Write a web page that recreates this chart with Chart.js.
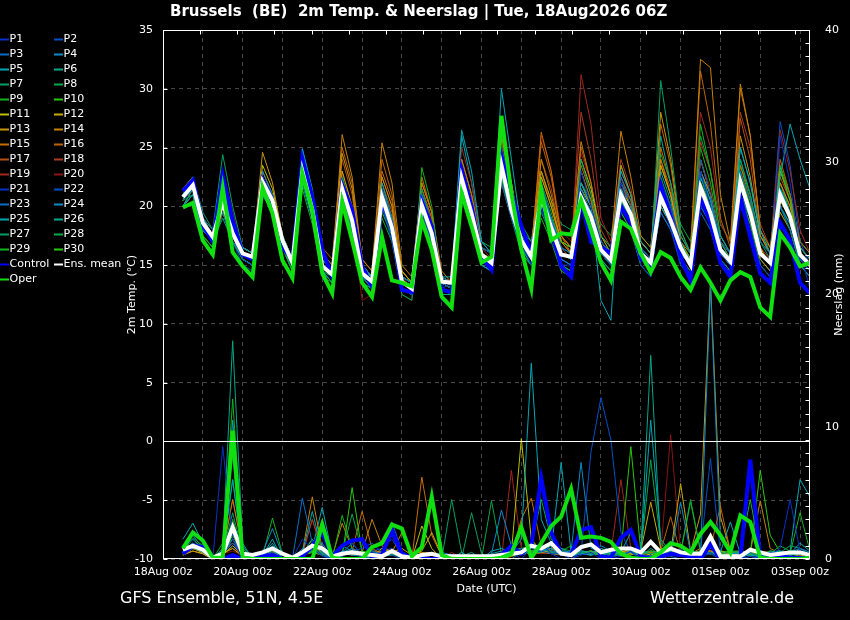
<!DOCTYPE html>
<html>
<head>
<meta charset="utf-8">
<script src="https://cdn.jsdelivr.net/npm/chart.js@4.4.1/dist/chart.umd.min.js"></script>
<style>
  html, body { margin: 0; padding: 0; background: #000; }
  canvas { display: block; }
</style>
</head>
<body>
<canvas id="ens" width="850" height="620"></canvas>
<script>
// forecast steps, hours after 18Aug 00z (6-hourly, 18Aug 12z .. 03Sep 06z)
const hours = [12,18,24,30,36,42,48,54,60,66,72,78,84,90,96,102,108,114,120,126,132,138,144,150,156,162,168,174,180,186,192,198,
  204,210,216,222,228,234,240,246,252,258,264,270,276,282,288,294,300,306,312,318,324,330,336,342,348,354,360,366,372,378,384,390];
const dayTicks = [0,24,48,72,96,120,144,168,192,216,240,264,288,312,336,360,384];
const dateLabels = ['18Aug 00z','20Aug 00z','22Aug 00z','24Aug 00z','26Aug 00z','28Aug 00z','30Aug 00z','01Sep 00z','03Sep 00z'];

const palette = ['#0832c8','#0050c8','#0a6ec4','#0a8cc8','#00a8b4','#00a88c','#00a064','#00aa46','#14b41e','#28c80a',
  '#bebe00','#c8aa00','#c8960a','#c88200','#c86e00','#be6400','#b45014','#aa3c1e','#a0281e','#8c1414'];

// 2m temperature (°C), members P1..P30
const tempP = [
  [21,22, 18,17,21,18, 16,15.5,22,20, 17,15,24,20, 15,14,22,19, 14.5,13.5,21,18, 13.5,13,20,18, 13.5,13,22,19, 15.5,15,24,20, 17,15,20,17, 15,15,23,20, 17,16,22,19, 15,14,21,18, 15,14,23,20, 16,15,21,18, 14.5,13.5,26,22, 16,13],
  [20.5,21.5, 18.5,17.5,20,17.5, 15.5,15,22.5,21, 17.5,15.5,23,20, 15,14.5,21,18.5, 14,13.5,20,17, 13,12.5,19.5,17, 13,13.5,22,19.5, 16.5,16,22,19, 16.5,15.5,21,18, 16,15.5,21,19, 16,15,20,19, 16.5,15.5,22,20, 17,15,24,21, 17,16,20,18, 15,14,21,19, 15.5,14.5],
  [21,22.5, 19,18,19.5,17, 16,15.5,21,19.5, 17,15,22,19, 15,14,20.5,18, 14,13,21.5,19, 14,13.5,21,18.5, 14,13.5,23,20, 16,15,25,21, 17.5,16,22,19, 16.5,16,20,18.5, 16,15.5,22.5,20, 16,15,19.5,18, 16,15,21,19, 16.5,15.5,23,20.5, 17,16,20,18, 15,14],
  [20,21, 18,17,20.5,18, 16.5,16,23,21, 17,15,24.9,21, 15.5,14.5,22,19.5, 15,14,20,18, 13,12.5,21,18, 13,12.5,21.5,19, 15,14.5,23.5,20, 17,16.5,20.5,18, 15.5,15,21.5,19.5, 17,16,20.5,18.5, 15.5,14.5,21,19, 16.5,15.5,20,18.5, 16,15,22,19, 16,15,21.5,19.5, 16.5,15.5],
  [21.5,22, 19,17.5,21,18.5, 16,15.5,21.5,20, 17.5,15.5,22.5,19.5, 15,14,21,18.5, 14.5,14,22,19, 14,13.5,20,17.5, 14,14,26.5,23, 17,16,30,24, 18,16,21.5,19, 16,15.5,22,20, 17,16,23,21, 17,16,20,18.5, 16,15,23,20.5, 17.5,16,25,22, 18,16,22.5,27, 24,21.5],
  [20,21.5, 18,17,19,17, 15.5,15,21,19.5, 16.5,15,22,19, 14.5,13.5,20.5,18, 13.5,13,20.5,18, 13,12.5,19,17, 12.5,12.5,22,19, 15,14.5,24,20, 16.5,15,21,18.5, 16,15.5,20,18, 15.5,14.5,21.5,19.5, 16.5,15.5,26,22, 17.5,16,22.5,20, 17,15.5,21,19, 16,15,20,18.5, 16,15],
  [21,22.5, 19.5,18,24.4,20, 16.5,16,22.5,20.5, 17,15.5,23.5,20.5, 15.5,14.5,22.5,19.5, 15,14,20.5,18.5, 14,13.5,21.5,18.5, 14,13.5,23.5,20, 16.5,16,23,20, 17,15.5,19.5,17.5, 15,14.5,24,21, 17.5,16.5,21,19, 16,15,30.7,25, 18,16,21,19, 15.5,14.5,24,21, 17,15.5,21,19.5, 16,15],
  [20.5,21, 18,17,20,17.5, 16,15.5,21.5,20, 16.5,14.5,22,19, 14.5,14,21.5,18.5, 14,13.5,20,18, 13.5,13,19,17, 13,12.5,21,18.5, 15,14.5,22.5,19, 16,15,20,17.5, 15,14.5,20,18.5, 15,14,19.5,18, 15,14,20.5,18.5, 15,14,22,19.5, 16,15,21,18.5, 15,14,20,18, 15,14],
  [20,21.5, 17.5,16.5,21,17.5, 15.5,15,22,20.5, 16.5,14.5,21.5,18.5, 14,13.5,21,18, 13.5,13,19,17, 12.5,12,23.3,20, 13.5,13,22,19.5, 15.5,15,22.5,19.5, 16,15,19,17, 14.5,14,21,19, 16,15,20.5,19, 16,15,22,19.5, 15.5,14.5,27,23, 17.5,16,23,20, 16,15,21,19, 15,14],
  [21,22, 18.5,17.5,20.5,18, 16.5,16,22,20, 17.5,15.5,23,19.5, 15.5,14.5,20.5,18, 14,13.5,21,18.5, 13.5,13,20.5,18, 13.5,13,22.5,20, 16,15.5,23,19.5, 17.5,16.5,21.5,19, 17,16.5,20.5,19, 17,16,21,19, 16,15,21,19, 17,15.5,21,19, 16.5,15.5,22,19.5, 16,15,23.3,20.5, 16.5,15.5],
  [20.5,22, 19,18,19.5,17.5, 16.5,16,23.5,21.5, 17.5,15.5,22.5,20, 15.5,14.5,22,19.5, 15,14,21,19, 14.5,13.5,20.5,18, 14,13.5,22,19, 16,15.5,23,20, 17.5,16,20,18, 16,15.5,24,21.5, 17.5,16,21.5,20, 17,16,20,18.5, 16.5,15.5,24,21, 17,15.5,22.5,20, 16.5,15,20.5,19, 16,15],
  [21,22, 18.5,17.5,20,17.5, 16,15.5,22,20.5, 17,15,23,20, 15,14,23,20, 15,14,20.5,18.5, 13.5,13,20,17.5, 13.5,13,21.5,19, 16,15.5,22,19, 17,16,22.5,20, 17,16.5,21.5,20, 17,16,20,18.5, 16,15,23.5,21, 17,15.5,22,20, 16.5,15.5,20.5,18.5, 15.5,14.5,19.5,18, 15,14],
  [21.5,22.5, 19,17.5,21,18.5, 16.5,16,24.6,22, 17.5,15.5,24,21, 16,15,24.5,21.5, 15,14,22.5,20, 14,13.5,21,18.5, 13.5,13,23,20.5, 16.5,16,26,22, 17.5,16,23,20.5, 17,16,22,20, 17,16,23.5,21, 17,16,28,24, 18,16,23,21, 17,16,26,22.5, 17.5,16,22,20, 16.5,15.5],
  [20,21, 18,17,20.5,18, 16,15.5,22.5,21, 17.5,15.5,23.5,20.5, 15.5,14.5,26.1,22.5, 15.5,14.5,25.4,22, 15,14,22,19.5, 14.5,13.5,24,21, 16.5,16,25,21.5, 17.5,16.5,24,21, 17.5,16.5,25.5,22, 17.5,16.5,26.4,22.5, 17.5,16.5,24,21, 17,16,32.5,31.8, 21,17,30.4,26, 18,16.5,23,20.5, 16.5,15.5],
  [21,21.5, 18.5,17.5,22,19, 16,15.5,21,19.5, 16.5,15,23,20, 15,14,22.5,19.5, 14.5,13.5,23,20.5, 14.5,13.5,22.5,19.5, 14,13.5,21,19, 15.5,15,24.5,21, 17,16,26.3,23, 17.5,16,23,20.5, 16.5,15.5,21,19, 15.5,14.5,25,22, 17,15.5,21.5,19.5, 16,15,23.5,20.5, 16,15,21,19.5, 16,15],
  [20.5,22, 18.5,17,20,17.5, 15.5,15,23,21, 17,15,24,21, 16.5,15.5,25,22, 15.5,14.5,24,21, 14.5,13.5,21.5,19, 14,13.5,23.5,20.5, 16,15.5,24,21, 17,16,25.5,22.5, 17.5,16.5,23.5,21, 17,16,22.5,20.5, 16.5,15.5,27,23.5, 17.5,16,31.5,27, 19,16.5,30,26, 18,16,24,21, 17,16],
  [20,21.5, 18,17,19.5,17, 16,15.5,21.5,20, 17,15,22.5,19.5, 15,14,24,21, 15,14,22,19.5, 14,13.5,21.5,19, 14,13.5,22.5,20, 16,15,25.5,22, 17,16,23,20, 17,16,25,22, 17,16,22,20, 16,15,24,21.5, 17,15.5,23,21, 16.5,15.5,27.5,24, 17.5,16,22.5,20.5, 16.5,15.5],
  [21,22, 19,17.5,23,19.5, 16,15.5,22,20.5, 17,15.5,23.5,20.5, 15.5,14.5,22,19.5, 14.5,13.5,22.5,20, 14,13.5,22,19.5, 14,13.5,24,21, 16,15.5,24.5,21, 17.5,16,24,21.5, 17.5,16.5,28,24, 18,16.5,24,21.5, 17,16,23.5,21, 17,15.5,25.5,23, 17.5,16,28,25, 18.5,16.5,22,20, 16.5,15.5],
  [20.5,21.5, 18,17,21.5,18.5, 16,15.5,23,21, 17.5,15.5,22,19.5, 15,14,23,20, 14.5,13.5,21.5,19, 14,13,22,19.5, 14,13.5,25,22, 16.5,15.5,24,21, 17,16,22.5,20, 16.5,15.5,31.2,27, 19,17,23,21, 17,16,22,20, 16.5,15.5,28,25, 18.5,17,22,20, 16.5,15.5,26.5,23, 18,16],
  [21,22, 18.5,17.5,20,18, 16,15.5,22,20.5, 17,15,23,20, 15,14,21.5,19, 12,12.5,21,18.5, 13.5,13,21,18.5, 13.5,13,23,20, 16,15,23.5,20.5, 17,16,26,23, 18,17,24.5,22, 17.5,16.5,22.5,20.5, 16.5,15.5,21.5,19.5, 16,15,24,21.5, 17,16,22.5,20.5, 16.5,15.5,21,19.5, 16,15],
  [21.5,22.5, 19,17.5,20.5,17.5, 16,15.5,22.5,20.5, 17,15,23.5,20, 15,14,21,18.5, 13.5,12.5,20.5,18, 12.5,12,20,17.5, 12,11.5,22,19, 15.5,15,23,20, 16.5,15.5,20.5,18, 15.5,15,21,19, 16.5,15.5,20,18.5, 15.5,14.5,21.5,19.5, 16,15,21,19, 15.5,14.5,22,19.5, 16,15,22,20, 16,15],
  [20.5,21.5, 18,17,19.5,17, 15,14.5,21,19.5, 16.5,14.5,22.5,19.5, 14.5,13.5,21,18.5, 14,13,20,17.5, 13,12.5,19.5,17, 13,12.5,22,19.5, 15.5,15,23.5,20.5, 17,15.5,20,18, 15.5,15,20.5,19, 16,15,22,20, 16.5,15,20,18.5, 16,15,21,19.5, 16.5,15.5,21,19.5, 17.5,16,27.2,23.5, 17,15],
  [20,21, 18,17.5,20,17.5, 16,15.5,22,20.5, 17,15.5,22,19, 14.5,14,21.5,18.5, 14,13.5,21,18.5, 13,12.5,20,17.5, 12.5,12.5,21.5,19, 16,15.5,22.5,19.5, 16,15,21,18.5, 16.5,16,21,19, 16,15,19.5,18, 15,14,20,18.5, 15.5,14.5,19.5,18, 15,14.5,21,19, 15.5,14.5,20,18.5, 15.5,14.5],
  [21,22, 18.5,17,21,18, 16,15.5,21,19.5, 16.5,15,23,20, 15,14.5,22,19, 14.5,13.5,20.5,18, 14,13.5,20,17.5, 13.5,13,23,20, 16,15,23,20.5, 18,17,21,19, 16.5,15.5,20,18.5, 16,15,21.5,19.5, 16,15,19.5,18, 16,15,22,20, 16.5,15.5,21.5,19.5, 16,15,21.5,19.5, 16,15],
  [21,21.5, 18.5,17.5,20,17.5, 16,15.5,22,20.5, 17,15,24.9,21.5, 15.5,14.5,22,19.5, 15,14,21,18.5, 14,13.5,20.5,18, 14,13.5,26,22, 17,16,26,22, 17,15.5,21,19, 17,16.5,22,20, 12,10.3,23.5,21, 16,14.5,23,20.5, 16.5,15,21.5,19.5, 16,15,25,22, 17.5,16,23,21, 17,16],
  [20.5,22, 18.5,17,20.5,18, 16.5,16,22,20, 17,15,22.5,19.5, 15,14,21,18.5, 14,13.5,20.5,18, 13.5,13,20,17.5, 13.5,13,22.5,19.5, 15.5,15,23,20, 16.5,15.5,21,19, 16,15.5,21,19.5, 16.5,15.5,21,19, 16,15,22,20, 16.5,15.5,22.5,20.5, 16.5,15.5,21.5,19.5, 16,15,21,19, 16,15],
  [20,21, 17.5,16.5,20,17, 15.5,15,22,20, 16.5,14.5,23,19.5, 14.5,13.5,22,19, 14,13,20.5,18, 13,12.5,19.5,17, 12.5,11.2,22,19, 15,14.5,24,20.5, 16.5,15,20,17.5, 15,14.5,21,19, 15.5,14.5,20,18.5, 15.5,14.5,22.5,20, 16,15,22,20, 16,15,24,21, 16,15,20.5,19, 15.5,14.5],
  [21,22, 18.5,17.5,21,18.5, 16.5,16,22.5,20.5, 17.5,15.5,23,20, 15.5,14.5,21.5,19, 14.5,14,20.5,18.5, 14,13.5,20.5,18, 14,13.5,24,21, 17,16.5,24.5,21, 18.5,17,23,20.5, 18.5,18,22,20.5, 18.5,17.5,22,20.5, 17.5,16.5,24.5,22, 18.5,17,26,23, 18.5,17,22.5,20.5, 17.5,16.5,21.5,20, 17,16],
  [20.5,21.5, 18,17,22.5,19, 16,15.5,22,20, 16.5,15,24,20.5, 15,14,22.5,19.5, 14,13.5,21.5,19, 13.5,13,21,18.5, 13.5,13,23,20, 16,15.5,24,20.5, 17,16,22,19.5, 16.5,16,23,20.5, 17,16,22,20, 16.5,15.5,23.5,21, 16.5,15.5,25,22, 17,16,23.5,21, 17,16,23.5,21, 16.5,15.5],
  [20,21, 17.5,16.5,19.5,17, 15.5,15,21.5,20, 16.5,14.5,22,19, 14.5,13.5,21,18.5, 14,13,19.5,17.5, 13,12.5,20,17.5, 13.5,13,21.5,19, 15.5,15,22.5,19.5, 16.5,15.5,20.5,18.5, 16,15.5,21,19, 16,15,20.5,19, 16,15,22,19.5, 16,15,21.5,19.5, 16,15,22,20, 16,15,22,19.5, 16,15]
];
const tempControl = [21.3,22.2, 18.5,17.0,22.6,18.8, 15.9,15.5,22.2,20.5, 16.5,15.5,24.0,20.8, 16.3,14.0,21.8,19.7, 14.9,13.2,20.5,18.3, 12.9,12.7,20.4,18.3, 12.9,12.7,23.1,20.0, 15.7,14.6,24.3,21.1, 18.3,16.0,20.3,18.2, 14.9,14.0,20.5,17.0, 16.5,16.0,20.0,18.6, 15.6,14.9,21.8,19.1, 15.7,13.7,20.8,18.6, 15.2,14.0,20.8,17.4, 14.3,13.5,18.6,17.1, 13.5,12.6];
const tempMean = [20.8,21.8, 18.6,17.4,20.3,17.7, 16.0,15.7,22.1,20.5, 17.1,15.2,23.0,19.7, 14.9,14.2,21.5,18.8, 14.3,13.6,20.8,18.2, 13.6,13.0,20.1,17.7, 13.6,13.5,22.4,19.4, 15.9,15.2,23.5,19.7, 17.1,15.7,20.8,18.2, 15.9,15.7,20.8,19.1, 16.3,15.4,21.0,19.3, 16.0,15.2,20.8,18.8, 16.5,15.0,21.6,19.4, 16.3,15.3,22.1,19.4, 16.0,15.2,21.0,19.1, 15.9,15.0];
const tempOper = [19.9,20.3, 17.1,15.9,21.6,16.1, 14.9,14.0,21.6,19.4, 15.4,13.9,22.8,19.7, 14.3,12.6,20.4,17.1, 13.5,12.3,17.4,13.7, 13.5,13.2,18.8,16.3, 12.3,11.4,21.1,18.3, 15.2,15.7,27.7,21.1, 16.3,13.0,21.4,17.1, 17.7,17.6,20.5,18.0, 15.2,13.7,18.7,18.1, 16.0,14.4,16.1,15.6, 14.0,12.9,14.8,13.5, 12.0,13.7,14.4,14.0, 11.4,10.6,17.7,16.5, 14.9,15.2];

// 6-hourly precipitation (mm), members P1..P30
const rainP = [
  [0.5,1.2,0.8,0,8.5,1.5,0,0, 0.3,0.5,0,0,1.5,0.8,0.2,0, 0.4,1.2,0.3,0.5,0.2,1.8,0,0, 0,0.3,0,0,0,0,0,0.2, 0.3,0.5,0,0.8,1.2,0.4,0,0, 0.3,0.5,0,0,0.2,0.6,0,0, 0,0.4,0.8,0,0.3,0.5,0,0, 0,0.2,0,0.3,0.8,4.5,0.6,0],
  [0.8,1.5,0.6,0,0.5,1.2,0.2,0, 0.2,0.8,0,0,0.6,1.0,0.3,0, 0.2,0.6,0.8,1.2,0.5,0.3,0,0, 0,0,0,0,0,0.2,0,0, 0,0.3,0.8,0.5,0.6,0.4,0.4,0, 0.5,8.1,12.2,9.0,2.0,0.5,0,0.3, 0,0.3,0.6,0.2,0.2,0.4,0,0, 0,0,0.2,0.5,0.3,0.6,0.4,0.2],
  [0.4,1.0,0.5,0,0.3,1.5,0.4,0, 0,0.4,0,0,4.6,1.2,0.5,0, 0.3,0.8,0.2,0.6,0.4,2.8,0.6,0, 0,0,0.2,0,0,0.3,0,0, 0,0,0.5,1.2,0.8,0.6,0.3,0.5, 0.8,1.0,0.6,0.2,0.3,0.2,0,0.2, 0.5,0.2,0,0,0.6,1.5,0.2,0, 0,0.5,0,0,0.4,0.2,0.8,0.5],
  [0.6,1.2,0.8,0,0.4,2.0,0.6,0, 0.5,2.3,0.3,0,0.8,0.5,1.2,0, 0.6,0.3,0.2,0,0.5,0.6,0.2,0, 0,0,0.5,0.3,0,0,0,0.4, 3.7,1.0,0.4,0.8,0.6,0.8,0.3,0.2, 0.4,0.3,1.0,0.6,0.4,0.5,0.3,0.2, 0,0.3,4.3,0.5,0.2,20.7,1.5,0.5, 0.3,0,0.2,0,0.2,0.5,0.8,0.3],
  [1.5,2.7,1.2,0,0.5,6.0,0.3,0, 0.3,1.2,0,0,0.5,3.6,0.6,0, 0.5,0.8,0.3,0.2,0.4,0.6,0.2,0, 0.2,0,0,0,0.5,0,0,0.6, 0.8,0.5,1.5,14.8,3.0,1.2,0.8,0.4, 0.6,0.5,0.8,0.4,0.5,2.0,0.5,10.5, 1.5,0.5,0.3,0.2,0.6,1.0,0.5,2.8, 0.4,0.2,0.3,0.5,0.6,0.4,1.2,0.6],
  [0.5,1.0,0.6,0,0.8,1.5,0.4,0, 0.3,0.8,0,0,0.4,1.5,0.6,0.2, 0.5,1.2,0.3,0,0.2,0.3,0.4,0.2, 0,0,0,0.3,0.2,0.5,0,0, 0,0.3,0.6,0.4,0.5,1.0,0.6,0.3, 0.4,0.3,0.5,0.2,0.3,0.6,0.2,0.8, 0.3,0.6,0.2,0.4,0.3,0.5,0.2,0.4, 0.5,0.3,0.2,0,0.2,0.3,0.4,0.2],
  [0.3,0.8,0.6,0,0.6,3.5,0.5,0, 0.2,0.6,0,0,0.3,0.8,0.4,0, 1.0,0.6,0.2,0.4,0.3,0.5,0.2,0, 0,0,0.3,0,0,3.5,0.4,0, 0.2,0.4,0.3,0.6,0.8,0.5,0.6,0.4, 0.5,0.3,0.4,0.5,0.3,0.6,0.5,0.4, 0.6,0.3,0.5,0.6,0.4,0.8,0.5,0.3, 0.6,0.4,0.3,0.2,0.5,1.0,0.8,0.5],
  [0.8,1.6,1.0,0,1.2,7.8,0.6,0, 0.3,0.8,0,0,0.5,1.0,2.0,0.3, 0.5,3.4,0.6,0.3,0.4,0.5,0.3,0, 0,0,0,0,0.5,0,0,0.3, 0.4,0.6,0.8,1.0,4.5,1.5,0.8,0.6, 0.5,0.4,0.6,0.3,0.8,0.6,0.5,7.5, 1.2,0.5,0.3,0.6,0.5,0.4,0.3,0.6, 0.5,0.3,0.2,0.4,1.0,0.6,0.4,0.3],
  [0.6,1.5,0.8,0,0.5,12.1,0.8,0, 0.2,3.1,0.4,0,0.3,0.6,0.5,0, 3.3,0.8,0.2,0.3,0.2,0.4,0.1,0, 0,0,0,0,0,0,0,0.2, 0.2,0.5,0.6,0.4,0.8,0.5,0.6,1.0, 0.6,0.3,0.5,0.4,0.3,0.5,0.4,0.6, 0.4,0.8,0.5,4.5,0.6,0.4,0.5,0.6, 0.4,0.5,0.3,0.6,0.5,0.4,3.5,0.6],
  [0.5,1.2,0.5,0,0.3,1.8,0.3,0, 0.2,0.4,0,0,0.3,0.5,0.3,0, 0.2,5.4,0.5,0.2,0.3,0.6,0.2,0, 0,0,0,0,0,0,0,0, 0,0.3,0.5,0.6,0.8,0.6,0.4,0.5, 0.4,0.6,0.3,0.4,0.5,8.5,0.6,0.4, 0.5,0.3,0.4,0.3,0.6,0.5,0.4,0.3, 0.5,0.4,6.7,1.8,0.5,0.3,0.4,0.2],
  [0.4,0.8,0.5,0,0.3,1.0,0.3,0, 0.2,0.5,0,0,0.3,1.2,0.5,0, 0.6,0.4,0.3,0.2,0.8,0.5,0.2,0, 2.5,0.8,0,0,0,0,0,0, 0.2,0.5,9.1,1.5,0.6,0.5,0.4,0.3, 0.5,0.4,0.3,0.2,0.6,0.4,0.5,0.3, 0.6,0.4,0.3,0.5,0.4,1.0,0.6,0.3, 0.4,0.3,0.5,0.2,0.3,0.4,0.2,0.3],
  [0.3,0.6,0.4,0,0.4,0.8,0.2,0, 0.3,0.6,0,0,0.2,0.8,0.6,0, 0.5,0.3,0.6,0.4,0.2,0.5,0.8,0.3, 0.6,2.0,0.3,0,0,0,0,0, 0,0.2,0.4,0.6,0.5,0.8,0.6,0.3, 0.5,0.3,0.6,0.5,0.4,0.3,0.6,4.3, 0.8,0.5,5.7,0.6,0.5,0.4,0.6,0.5, 0.4,0.5,0.3,0.2,0.5,0.3,0.4,0.2],
  [0.5,1.0,0.4,0,0.6,2.0,0.5,0, 0.2,0.5,0,0,0.4,1.5,0.3,0, 0.4,0.6,0.5,0.3,0.6,0.4,0.3,0.2, 0.4,0.5,0.2,0,0,0,0,0, 0.2,0.6,0.8,0.5,0.6,0.4,0.3,0.5, 0.4,0.6,0.5,0.3,0.8,0.5,0.4,0.6, 0.5,0.6,0.4,0.5,3.4,21.0,3.2,0.6, 0.5,0.4,0.3,0.5,0.4,0.6,0.3,0.2],
  [0.4,0.8,0.6,0,0.5,4.5,0.6,0, 0.3,0.6,0,0,0.5,4.7,0.8,0.2, 2.7,0.8,0.5,3.0,1.0,0.5,2.0,0.5, 0.5,0.4,0.2,0,0,0,0,0, 0,0.5,0.8,0.6,0.5,0.4,0.6,0.3, 0.6,0.4,0.8,0.5,0.6,0.4,0.3,0.5, 0.4,0.6,0.5,0.4,0.8,0.6,0.5,0.4, 0.6,0.5,4.4,0.8,0.4,0.5,0.3,0.2],
  [0.3,0.8,0.5,0,0.4,1.5,0.3,0, 0.2,0.5,0,0,0.3,0.8,0.4,0, 0.4,0.6,3.6,0.8,0.4,0.5,0.3,0, 6.2,1.8,0.2,0,0,0,0,0, 0,0.3,3.0,4.6,1.0,0.6,0.5,0.4, 0.6,0.5,0.4,0.5,0.6,0.4,0.5,0.3, 0.6,0.4,0.3,0.5,0.4,0.6,0.3,0.5, 0.4,0.3,0.5,0.4,0.3,0.4,0.3,0.2],
  [0.5,1.0,0.5,0,0.6,1.2,0.4,0, 0.3,0.8,0,0,0.4,0.6,0.5,0, 0.5,0.3,0.4,0.6,0.5,0.4,0.2,0, 0,0.3,0,0,0,0,0,0, 0.2,0.4,0.6,0.3,0.5,0.6,0.4,0.5, 0.4,0.6,0.3,0.4,0.5,0.6,0.4,0.5, 0.6,3.2,0.4,0.5,0.6,0.8,4.0,0.6, 0.5,0.4,0.6,0.3,0.4,0.5,0.6,0.3],
  [0.4,0.6,0.4,0,0.5,0.8,0.3,0, 0.2,0.5,0,0,0.3,0.6,0.3,0, 0.4,0.5,0.3,0.2,0.3,0.4,0.2,0, 0,0,0,0,0,0,0,0, 0,0.3,0.5,0.4,0.6,0.5,0.4,0.3, 0.5,0.4,0.6,0.3,0.4,0.5,0.3,0.6, 0.4,0.5,0.3,0.4,0.5,0.6,0.4,0.5, 0.3,0.4,0.5,0.3,0.4,0.3,0.5,0.2],
  [0.3,0.8,0.5,0,0.4,2.5,0.3,0, 0.2,0.4,0,0,0.4,3.0,0.5,0, 0.3,0.5,0.4,0.3,0.5,0.3,0.2,0, 0,0,0,0,0,0,0,0, 0.3,0.5,0.4,0.6,0.8,0.6,0.5,0.4, 0.6,0.5,0.4,0.3,0.5,0.6,0.4,0.5, 0.6,0.4,0.5,0.3,0.6,0.5,0.4,0.3, 0.5,0.4,0.6,0.3,0.4,0.3,0.5,0.2],
  [0.4,0.8,0.6,0,0.5,4.5,0.8,0, 0.2,0.6,0,0,0.3,3.0,0.6,0, 0.4,0.6,0.3,0.2,0.3,0.5,0.2,0, 0,0,0,0.5,0,0,0,0, 0,6.7,0.8,0.5,0.4,0.6,0.5,0.3, 0.5,0.4,0.6,0.5,6.0,0.8,0.5,0.4, 0.5,0.6,0.4,0.5,0.6,0.5,0.4,0.6, 0.5,0.4,0.6,0.5,0.4,0.6,0.5,0.3],
  [0.3,0.6,0.4,0,0.4,0.6,0.3,0, 0.2,0.4,0,0,0.3,0.5,0.3,0, 0.3,0.4,0.2,0.3,0.4,0.3,0.2,0, 0,0,0,0,0,0,0,0, 0.2,0.4,0.3,0.5,0.4,0.5,0.3,0.4, 0.5,0.4,0.5,0.3,0.4,0.5,0.6,0.4, 0.5,9.4,0.6,0.4,0.5,0.4,0.3,0.5, 0.4,0.5,0.3,0.4,0.3,0.4,0.3,0.2],
  [0.5,1.0,0.5,0,0.4,1.0,0.4,0, 0.3,0.6,0,0,0.5,0.8,0.4,0, 0.5,0.6,0.4,0.6,0.8,1.5,0.3,0, 0,0,0,0,0,0,0,0, 0.2,0.5,0.4,0.6,0.8,0.6,0.5,0.4, 0.6,0.5,0.4,0.3,0.5,0.4,0.3,0.5, 0.4,0.6,0.5,0.4,0.6,0.5,0.4,0.6, 0.5,0.4,0.3,0.5,0.6,0.4,0.5,0.3],
  [0.6,1.2,0.6,0,0.5,1.2,0.4,0, 0.3,0.6,0,0,0.4,0.6,0.5,0, 0.4,0.5,0.3,0.4,0.6,0.8,0.3,0, 0,0,0,0,0,0,0,0, 0.3,0.6,0.5,0.8,1.0,0.6,0.5,0.6, 0.4,0.5,0.6,0.4,0.5,0.6,0.4,0.5, 0.6,0.4,0.5,0.3,0.6,7.6,0.5,0.4, 0.6,0.5,0.4,0.3,0.5,0.6,0.4,0.3],
  [0.4,0.8,0.5,0,0.6,1.5,0.3,0, 0.2,0.5,0,0,0.4,0.6,0.4,0, 0.3,0.5,0.4,0.3,0.5,0.4,0.3,0, 0,0,0,0,0,0,0,0, 0,0.4,0.6,0.5,0.6,0.8,0.5,0.4, 0.5,0.6,0.4,0.5,0.6,0.4,0.5,0.6, 0.5,0.4,0.6,0.5,0.4,0.6,0.5,0.4, 0.3,0.5,0.4,0.6,0.5,0.4,0.6,0.3],
  [0.5,1.0,0.6,0,0.5,2.0,0.4,0, 0.3,0.8,0,0,0.5,0.6,0.4,0, 0.4,0.3,0.5,0.4,0.3,0.6,0.2,0, 0,0,0,0,0,0,0,0, 0.2,0.4,0.6,0.5,0.8,0.6,0.5,0.6, 7.3,0.8,0.6,0.5,0.4,0.6,0.5,0.4, 0.6,0.5,0.4,0.6,0.5,0.6,0.4,0.5, 0.4,0.5,0.6,0.4,0.5,0.6,0.4,0.3],
  [0.8,1.8,0.8,0,0.6,10.5,1.0,0, 0.3,1.5,0,0,0.4,0.8,3.9,0.3, 0.5,0.6,0.4,0.3,0.5,0.6,0.3,0, 0,0,0,0,0,0,0,0.4, 0.6,0.5,0.8,0.6,0.8,0.6,7.3,0.5, 0.6,0.5,0.4,0.6,0.5,0.4,0.6,0.5, 0.4,0.6,0.5,0.4,0.6,0.5,0.6,0.4, 0.5,0.4,0.3,0.5,0.4,0.6,6.0,4.7],
  [0.6,1.2,0.6,0,0.8,16.5,1.2,0, 0.3,1.0,0,0,0.5,0.6,0.4,0, 0.4,0.6,0.5,0.3,0.4,0.5,0.3,0, 0,0,0,0,0,0,0,0, 0.3,0.4,0.5,0.6,0.6,0.5,0.6,0.4, 0.5,0.6,0.4,0.5,0.6,0.5,0.6,15.4, 0.8,0.6,0.5,0.4,0.6,0.5,0.6,0.4, 0.5,0.6,0.4,0.3,0.5,0.4,0.6,0.3],
  [0.5,1.0,0.5,0,0.6,6.0,0.5,0, 0.3,0.6,0,0,0.4,0.6,0.5,0, 0.4,0.5,0.3,0.4,0.3,0.5,0.2,0, 0,0,0,4.5,0.5,0,0,0, 0,0.4,0.6,0.5,0.8,0.6,0.5,0.4, 0.6,0.4,0.5,0.6,0.5,0.6,0.4,0.5, 0.6,0.5,0.4,4.3,0.6,0.5,0.4,0.6, 0.5,0.4,0.6,0.5,0.4,0.5,0.3,0.2],
  [0.4,0.8,0.5,0,0.5,2.2,0.4,0, 0.2,0.5,0,0,0.3,0.5,0.4,0, 0.5,0.4,0.3,0.5,0.4,0.3,0.2,0, 0,0,0,0,0,0,0,4.4, 0.4,0.5,0.6,0.4,0.6,0.5,0.6,0.4, 0.5,0.6,0.4,0.5,0.4,0.6,0.5,0.4, 0.6,0.4,0.5,0.6,0.4,0.5,0.6,0.4, 0.5,0.6,0.4,0.5,0.6,0.4,0.5,0.3],
  [0.6,1.2,0.6,0,0.5,3.0,0.6,0, 0.3,0.8,0,0,0.5,0.6,3.0,0.3, 0.5,0.6,0.4,0.3,0.4,0.5,0.3,0, 0,0,0,0,0,0,0,0, 0.2,0.4,0.5,0.6,0.6,0.5,0.4,0.6, 0.5,0.4,0.6,0.5,0.4,0.5,0.6,0.4, 0.5,0.6,0.4,0.5,0.6,0.4,0.5,0.6, 0.6,4.5,0.4,0.6,0.5,0.4,0.6,0.3],
  [0.5,1.0,0.5,0,0.4,1.2,0.4,0, 0.3,0.6,0,0,0.4,0.5,0.4,0, 0.4,0.5,0.3,0.4,0.3,0.4,0.2,0, 0,0,0,0,0,0,0,0, 0.2,0.3,0.5,0.4,0.6,0.5,0.4,0.5, 0.4,0.5,0.3,0.4,0.5,0.6,0.4,0.5, 0.4,0.5,0.6,0.4,0.5,0.4,0.6,0.5, 0.4,0.5,0.6,0.4,0.5,0.6,0.4,0.3]
];
const rainControl = [0.4,1.0,0.9,0,0,0.3,0,0, 0.2,0.3,0,0,0.2,1.0,2.0,0.2, 1.0,1.4,1.5,0.2,0.3,2.2,0.4,0.1, 0,0,0,0,0,0,0,0.1, 0.3,1.0,0.4,1.0,6.1,2.0,0.4,0.3, 2.2,2.4,0.2,0.1,1.6,2.2,0.2,0, 0.2,0.4,0.3,0.2,0,1.1,0,0, 0,7.5,0,0.1,0.2,0.1,0.1,0];
const rainMean = [0.7,1.0,0.7,0.1,0.4,2.4,0.4,0.3, 0.5,0.8,0.4,0.1,0.5,1.0,0.8,0.2, 0.4,0.5,0.4,0.3,0.2,0.6,0.2,0.1, 0.3,0.4,0.2,0.2,0.2,0.2,0.2,0.2, 0.3,0.4,0.5,1.0,0.8,1.2,0.4,0.3, 0.9,1.1,0.5,0.7,0.8,0.8,0.5,1.3, 0.5,0.8,0.5,0.4,0.4,1.7,0.2,0.2, 0.2,0.7,0.5,0.3,0.4,0.5,0.5,0.3];
const rainOper = [0.8,2.0,1.4,0.1,0.1,9.7,0.1,0, 0,0,0,0,0,0,2.6,0.1, 0,0,0,0.9,1.2,2.6,2.3,0.2, 0.9,4.7,0.3,0,0,0,0,0, 0.1,0.4,2.4,0.1,1.2,2.5,3.2,5.3, 1.6,1.7,1.6,1.3,0.4,0.1,0,0, 0.5,1.2,1.0,0.5,1.9,2.8,1.8,0.5, 3.3,2.8,0.1,0,0,0,0,0.1];

const controlColor = '#0000ff';
const meanColor = '#ffffff';
const operColor = '#10e010';

Chart.defaults.font.family = 'DejaVu Sans';
Chart.defaults.color = '#ffffff';

function pts(vals) {
  return hours.map((h, i) => ({ x: h, y: vals[i] }));
}

var datasets = [];
tempP.forEach(function (vals, k) {
  datasets.push({ label: 'P' + (k + 1), data: pts(vals), yAxisID: 'y', borderColor: palette[k % 20], borderWidth: 1, order: 10 });
});
rainP.forEach(function (vals, k) {
  datasets.push({ label: 'P' + (k + 1) + ' rr', data: pts(vals), yAxisID: 'y2', borderColor: palette[k % 20], borderWidth: 1, order: 10 });
});
datasets.push({ label: 'Control', data: pts(tempControl), yAxisID: 'y', borderColor: controlColor, borderWidth: 4, order: 3 });
datasets.push({ label: 'Control rr', data: pts(rainControl), yAxisID: 'y2', borderColor: controlColor, borderWidth: 4, order: 3 });
datasets.push({ label: 'Ens. mean', data: pts(tempMean), yAxisID: 'y', borderColor: meanColor, borderWidth: 4, order: 2 });
datasets.push({ label: 'Ens. mean rr', data: pts(rainMean), yAxisID: 'y2', borderColor: meanColor, borderWidth: 4, order: 2 });
datasets.push({ label: 'Oper', data: pts(tempOper), yAxisID: 'y', borderColor: operColor, borderWidth: 4, order: 1 });
datasets.push({ label: 'Oper rr', data: pts(rainOper), yAxisID: 'y2', borderColor: operColor, borderWidth: 4, order: 1 });

function line(ctx, x1, y1, x2, y2) {
  ctx.beginPath(); ctx.moveTo(x1, y1); ctx.lineTo(x2, y2); ctx.stroke();
}

var framePlugin = {
  id: 'frame',
  beforeDraw: function (chart) {
    var ctx = chart.ctx;
    ctx.save();
    ctx.fillStyle = '#000';
    ctx.fillRect(0, 0, chart.width, chart.height);
    ctx.restore();
  },
  afterDatasetsDraw: function (chart) {
    var ctx = chart.ctx, a = chart.chartArea, sc = chart.scales;
    var L = Math.round(a.left) + 0.5, R = Math.round(a.right) - 0.5;
    var T = Math.round(a.top) + 0.5, B = Math.round(a.bottom) - 0.5;
    ctx.save();
    ctx.strokeStyle = '#ffffff';
    ctx.lineWidth = 1;
    var y0 = Math.round(sc.y.getPixelForValue(0)) + 0.5;
    line(ctx, L, y0, R, y0);
    ctx.strokeRect(L, T, R - L, B - T);
    // inner tick marks
    for (var t = -10; t <= 35; t += 5) {
      var yy = Math.round(sc.y.getPixelForValue(t)) + 0.5;
      line(ctx, L, yy, L + 4, yy);
    }
    for (var mm = 0; mm <= 40; mm++) {
      var ym = Math.round(sc.y2.getPixelForValue(mm)) + 0.5;
      line(ctx, R - 4, ym, R, ym);
    }
    for (var h = 0; h <= 390; h += 22.4) {
      var xx = Math.round(sc.x.getPixelForValue(h)) + 0.5;
      line(ctx, xx, T, xx, T + 4);
    }
    ctx.restore();
  },
  afterDraw: function (chart) {
    var ctx = chart.ctx, a = chart.chartArea;
    var midY = (a.top + a.bottom) / 2;
    ctx.save();
    ctx.fillStyle = '#ffffff';
    ctx.textBaseline = 'middle';

    ctx.font = 'bold 15px "DejaVu Sans"';
    ctx.textAlign = 'left';
    ctx.fillText('Brussels  (BE)  2m Temp. & Neerslag | Tue, 18Aug2026 06Z', 170, 12);

    ctx.font = '11px "DejaVu Sans"';
    ctx.textAlign = 'center';
    ctx.fillText('Date (UTC)', (a.left + a.right) / 2, 589);

    ctx.save();
    ctx.translate(132, midY); ctx.rotate(-Math.PI / 2);
    ctx.fillText('2m Temp. (\u00b0C)', 0, 0);
    ctx.restore();
    ctx.save();
    ctx.translate(839, midY); ctx.rotate(-Math.PI / 2);
    ctx.fillText('Neerslag (mm)', 0, 0);
    ctx.restore();

    ctx.font = '16px "DejaVu Sans"';
    ctx.textAlign = 'left';
    ctx.fillText('GFS Ensemble, 51N, 4.5E', 120, 599);
    ctx.fillText('Wetterzentrale.de', 650, 599);

    // legend
    var items = [];
    for (var k = 0; k < 30; k++) items.push({ label: 'P' + (k + 1), color: palette[k % 20] });
    items.push({ label: 'Control', color: controlColor });
    items.push({ label: 'Ens. mean', color: meanColor });
    items.push({ label: 'Oper', color: operColor });
    ctx.font = '11px "DejaVu Sans"';
    ctx.textAlign = 'left';
    ctx.lineWidth = 2;
    items.forEach(function (it, i) {
      var col = i % 2, row = Math.floor(i / 2);
      var x0 = col ? 54 : 0;
      var y = 39.5 + row * 15;
      ctx.strokeStyle = it.color;
      line(ctx, x0, y, x0 + 9, y);
      ctx.fillStyle = '#ffffff';
      ctx.fillText(it.label, x0 + 9.5, y);
    });
    ctx.restore();
  }
};

var tickFont = { family: 'DejaVu Sans', size: 11 };
var gridStyle = { color: '#474747', drawTicks: false };

new Chart(document.getElementById('ens'), {
  type: 'line',
  data: { datasets: datasets },
  options: {
    responsive: false,
    animation: false,
    devicePixelRatio: 1,
    layout: { padding: { left: 120, right: 0, top: 30, bottom: 0 } },
    elements: { point: { radius: 0 }, line: { tension: 0 } },
    plugins: { legend: { display: false }, tooltip: { enabled: false } },
    scales: {
      x: {
        type: 'linear', min: 0, max: 390,
        afterFit: function (s) { s.height = 61; },
        afterBuildTicks: function (s) { s.ticks = dayTicks.map(function (v) { return { value: v }; }); },
        grid: gridStyle,
        border: { display: false, dash: [4, 4] },
        ticks: {
          color: '#ffffff', font: tickFont, padding: 7, maxRotation: 0, autoSkip: false,
          callback: function (v) { return v % 48 === 0 ? dateLabels[v / 48] : ''; }
        }
      },
      y: {
        position: 'left', min: -10, max: 35,
        afterFit: function (s) { s.width = 43; },
        grid: gridStyle,
        border: { display: false, dash: [4, 4] },
        ticks: { stepSize: 5, color: '#ffffff', font: tickFont, padding: 10 }
      },
      y2: {
        position: 'right', min: 0, max: 40,
        afterFit: function (s) { s.width = 40; },
        grid: { display: false },
        border: { display: false },
        ticks: { stepSize: 10, color: '#ffffff', font: tickFont, padding: 7 }
      }
    }
  },
  plugins: [framePlugin]
});
</script>
</body>
</html>
